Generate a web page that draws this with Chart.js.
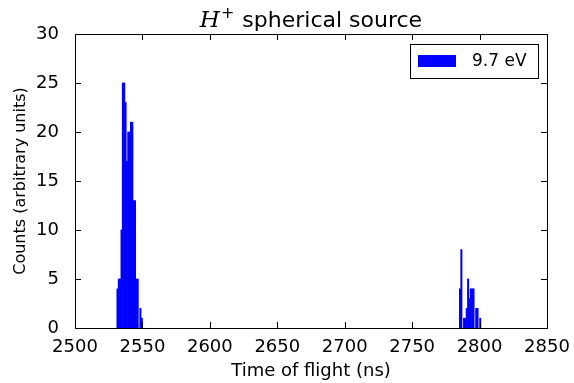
<!DOCTYPE html>
<html>
<head>
<meta charset="utf-8">
<script src="https://cdn.jsdelivr.net/npm/chart.js@4"></script>
<style>
  body { margin: 0; background: #fff; }
  #wrap { width: 574px; height: 383px; }
</style>
</head>
<body>
<div id="wrap"><canvas id="chart"></canvas></div>
<script>
// Histogram bins (1 ns wide), left edge in ns, counts
const binStarts = [2531, 2532, 2533, 2534, 2535, 2536, 2537, 2538, 2539, 2540, 2541, 2542, 2543, 2544, 2545, 2546, 2548, 2549,
                   2785, 2786, 2788, 2789, 2790, 2791, 2792, 2793, 2794, 2795, 2797, 2798, 2800];
const counts    = [4, 5, 5, 10, 25, 25, 23, 17, 20, 20, 21, 21, 13, 13, 5, 5, 2, 1,
                   4, 8, 1, 1, 2, 5, 3, 4, 4, 4, 2, 2, 1];
const seriesLabel = '9.7 eV';
const xTicks = [2500, 2550, 2600, 2650, 2700, 2750, 2800, 2850];
const yTicks = [0, 5, 10, 15, 20, 25, 30];

const FONT = 'DejaVu Sans';

// matplotlib-classic style frame: box plus inward ticks on all sides
const framePlugin = {
    id: 'frame',
    afterDatasetsDraw(chart) {
        const { ctx, chartArea: a, scales } = chart;
        ctx.save();
        ctx.strokeStyle = '#000';
        ctx.lineWidth = 1;
        ctx.beginPath();
        xTicks.forEach(v => {
            const x = Math.round(scales.x.getPixelForValue(v)) + 0.5;
            ctx.moveTo(x, a.bottom); ctx.lineTo(x, a.bottom - 6);
            ctx.moveTo(x, a.top); ctx.lineTo(x, a.top + 6);
        });
        yTicks.forEach(v => {
            const y = Math.round(scales.y.getPixelForValue(v)) + 0.5;
            ctx.moveTo(a.left, y); ctx.lineTo(a.left + 6, y);
            ctx.moveTo(a.right, y); ctx.lineTo(a.right - 6, y);
        });
        ctx.stroke();
        ctx.strokeRect(Math.round(a.left) + 0.5, Math.round(a.top) + 0.5,
                       Math.round(a.right - a.left), Math.round(a.bottom - a.top));

        // legend box, upper right
        const bw = 128, bh = 34;
        const bx = a.right - 9 - bw, by = a.top + 10;
        ctx.fillStyle = '#fff';
        ctx.fillRect(bx, by, bw, bh);
        ctx.strokeRect(Math.round(bx) + 0.5, Math.round(by) + 0.5, bw, bh);
        ctx.fillStyle = chart.data.datasets[0].backgroundColor;
        ctx.fillRect(bx + 8, by + 11, 38, 12);
        ctx.fillStyle = '#000';
        ctx.font = '17px "' + FONT + '"';
        ctx.textBaseline = 'middle';
        ctx.textAlign = 'left';
        ctx.fillText(chart.data.datasets[0].label, bx + 62, by + 18);

        // title: italic H with superscript plus, then plain text
        const cx = (a.left + a.right) / 2;
        const base = 27;
        ctx.textBaseline = 'alphabetic';
        const fMath = 'italic 23px "DejaVu Serif"';
        const fSup = '16px "DejaVu Sans"';
        const fText = '22px "' + FONT + '"';
        const rest = ' spherical source';
        ctx.font = fMath; const wH = ctx.measureText('H').width;
        ctx.font = fSup; const wP = ctx.measureText('+').width;
        ctx.font = fText; const wR = ctx.measureText(rest).width;
        let x0 = cx - (wH + wP + 2 + wR) / 2;
        ctx.font = fMath; ctx.fillText('H', x0, base); x0 += wH + 1;
        ctx.font = fSup; ctx.fillText('+', x0, base - 9); x0 += wP + 1;
        ctx.font = fText; ctx.fillText(rest, x0, base);
        ctx.restore();
    }
};

new Chart(document.getElementById('chart'), {
    type: 'bar',
    data: {
        datasets: [{
            label: seriesLabel,
            data: binStarts.map((b, i) => ({ x: b + 0.5, y: counts[i] })),
            backgroundColor: '#0000ff',
            borderWidth: 0,
            barPercentage: 1,
            categoryPercentage: 1
        }]
    },
    options: {
        responsive: true,
        maintainAspectRatio: false,
        animation: false,
        layout: { padding: { left: 0, right: 27, top: 34, bottom: 0 } },
        plugins: { legend: { display: false }, tooltip: { enabled: false } },
        scales: {
            x: {
                type: 'linear',
                min: 2500,
                max: 2850,
                offset: false,
                afterFit(s) { s.height = 55; },
                afterBuildTicks(s) { s.ticks = xTicks.map(v => ({ value: v })); },
                grid: { display: false },
                border: { display: false },
                ticks: { color: '#000', font: { family: FONT, size: 18 }, padding: 1, maxRotation: 0,
                         callback: v => String(v) },
                title: { display: true, text: 'Time of flight (ns)', color: '#000',
                         font: { family: FONT, size: 18 }, padding: { top: 0, bottom: 1 } }
            },
            y: {
                min: 0,
                max: 30,
                afterFit(s) { s.width = 75; },
                afterBuildTicks(s) { s.ticks = yTicks.map(v => ({ value: v })); },
                grid: { display: false },
                border: { display: false },
                ticks: { color: '#000', font: { family: FONT, size: 18 }, padding: 8,
                         callback: v => String(v) },
                title: { display: true, text: 'Counts (arbitrary units)', color: '#000',
                         font: { family: FONT, size: 16 }, padding: { top: 11, bottom: 0 } }
            }
        }
    },
    plugins: [framePlugin]
});
</script>
</body>
</html>
